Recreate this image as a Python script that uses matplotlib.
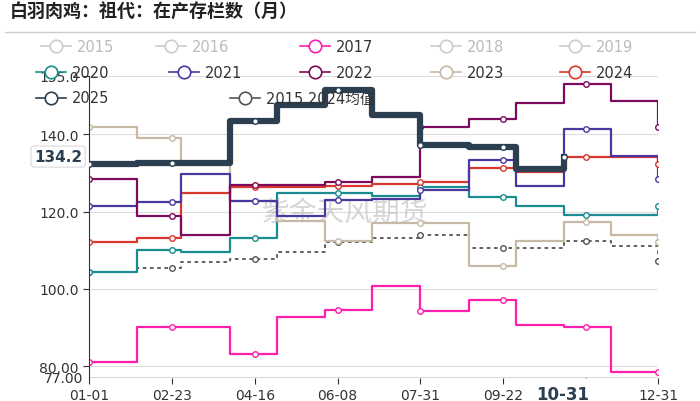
import numpy as np
import matplotlib.pyplot as plt
from matplotlib.lines import Line2D

plt.rcParams['font.family'] = ['DejaVu Sans', 'Noto Sans CJK SC']

# month start (day of year), last point = 12-31
days = [0, 31, 59, 90, 120, 151, 181, 212, 243, 273, 304, 334, 364]
tick_days = [0, 53, 106, 159, 212, 265, 318, 364]
tick_labels = ['01-01', '02-23', '04-16', '06-08', '07-31', '09-22', '', '12-31']

s2017 = [81.1, 90.2, 90.2, 83.2, 92.8, 94.6, 100.8, 94.3, 97.2, 90.7, 90.3, 78.6, 78.6]
s2020 = [104.4, 110.1, 109.5, 113.2, 124.8, 124.8, 124.0, 126.3, 123.7, 121.4, 119.1, 119.1, 121.4]
s2021 = [121.4, 122.4, 129.7, 122.7, 118.8, 123.0, 123.2, 125.6, 133.3, 126.6, 141.3, 134.3, 128.4]
s2022 = [128.4, 118.8, 114.0, 126.8, 126.8, 127.6, 128.9, 141.8, 144.0, 148.0, 152.9, 148.5, 141.8]
s2023 = [141.8, 139.0, 132.5, 122.7, 117.5, 112.4, 117.0, 117.0, 106.0, 112.4, 117.3, 114.0, 112.0]
s2024 = [112.1, 113.2, 124.8, 126.3, 126.3, 126.6, 127.1, 127.6, 131.2, 130.2, 134.1, 134.1, 132.3]
s2025 = [132.3, 132.6, 132.6, 143.4, 147.5, 151.4, 145.0, 137.2, 136.6, 131.0, 134.2]
avg = [104.4, 105.4, 107.0, 107.7, 109.5, 112.1, 113.2, 114.0, 110.6, 110.6, 112.4, 111.1, 107.2]

fig = plt.figure(figsize=(7, 4.02), dpi=100)
ax = fig.add_axes([89/700, 1-379/402, 569/700, 302/402])


def draw(vals, color, lw=1.6, ls='-', z=2):
    x = days[:len(vals)]
    ax.step(x, vals, where='post', color=color, lw=lw, ls=ls, zorder=z)
    mx = [d for d in tick_days if d <= x[-1]]
    my = [vals[np.searchsorted(x, d, side='right') - 1] for d in mx]
    if x[-1] not in mx:
        mx.append(x[-1]); my.append(vals[-1])
    ax.plot(mx, my, 'o', ms=4, mfc='white', mec=color, mew=1, zorder=z + 0.1)


draw(s2017, '#ff1fae')
draw(avg, '#555555', lw=1.3, ls=(0, (2, 2)))
draw(s2020, '#1b8d91')
draw(s2023, '#c8b9a6')
draw(s2024, '#d8382e')
draw(s2021, '#4a38a0')
draw(s2022, '#7d0a5c')
draw(s2025, '#2b3f50', lw=4.5, z=3)

ax.set_xlim(0, 364)
ax.set_ylim(77, 155)
ax.set_yticks([80, 100, 120, 140, 155])
ax.set_yticklabels(['80.00', '100.0', '120.0', '140.0', '155.0'])
ax.set_xticks(tick_days)
ax.set_xticklabels(tick_labels)
ax.tick_params(labelsize=10, colors='#333333', length=4)
for y in [80, 100, 120, 140, 155]:
    ax.axhline(y, color='#dddddd', lw=0.8, zorder=0)
for s in ['top', 'right', 'bottom']:
    ax.spines[s].set_visible(False)
ax.spines['left'].set_color('#333333')
ax.axhline(77, color='#333333', lw=1, zorder=1)
ax.text(-0.01, 77, '77.00', transform=ax.get_yaxis_transform(), ha='right', va='center',
        fontsize=10, color='#333333')
ax.text(-0.012, 134.2, '134.2', transform=ax.get_yaxis_transform(), ha='right', va='center',
        fontsize=11, fontweight='bold', color='#2b3f50',
        bbox=dict(boxstyle='round,pad=0.2', fc='white', ec='#cccccc', lw=0.6))
ax.text(303, 75.3, '10-31', transform=ax.transData, ha='center', va='top', fontsize=12,
        fontweight='bold', color='#2b3f50', bbox=dict(fc='white', ec='none', pad=4))
ax.text(0.45, 0.55, '紫金天风期货', transform=ax.transAxes, ha='center', va='center',
        fontsize=20, color='#bbbbbb', alpha=0.6, zorder=1, family='Noto Sans CJK SC')

fig.text(10/700, 1-12/402, '白羽肉鸡：祖代：在产存栏数（月）', fontsize=13, fontweight='bold',
         color='#222222', va='center', family='Noto Sans CJK SC')
fig.add_artist(Line2D([5/700, 695/700], [1-33/402, 1-33/402], color='#cccccc', lw=1))

legend_rows = [
    [('2015', '#cccccc', True, 41), ('2016', '#cccccc', True, 156), ('2017', '#ff1fae', False, 300),
     ('2018', '#cccccc', True, 431), ('2019', '#cccccc', True, 560)],
    [('2020', '#1b8d91', False, 36), ('2021', '#4a38a0', False, 169), ('2022', '#7d0a5c', False, 300),
     ('2023', '#c8b9a6', False, 431), ('2024', '#d8382e', False, 560)],
    [('2025', '#2b3f50', False, 36), ('2015 2024均值', '#555555', False, 230)],
]
for r, row in enumerate(legend_rows):
    yy = 1 - (47 + r * 26) / 402
    for name, col, off, px in row:
        x0 = px / 700
        fig.add_artist(Line2D([x0, x0 + 30/700], [yy, yy], color=col, lw=1.2))
        fig.add_artist(Line2D([x0 + 15/700], [yy], color=col, marker='o', ms=9,
                              mfc='white', mec=col, mew=1.2, ls='none'))
        fig.text(x0 + 36/700, yy, name, fontsize=10.5, va='center',
                 color='#bbbbbb' if off else '#333333')

fig.savefig('out.png', dpi=100)
